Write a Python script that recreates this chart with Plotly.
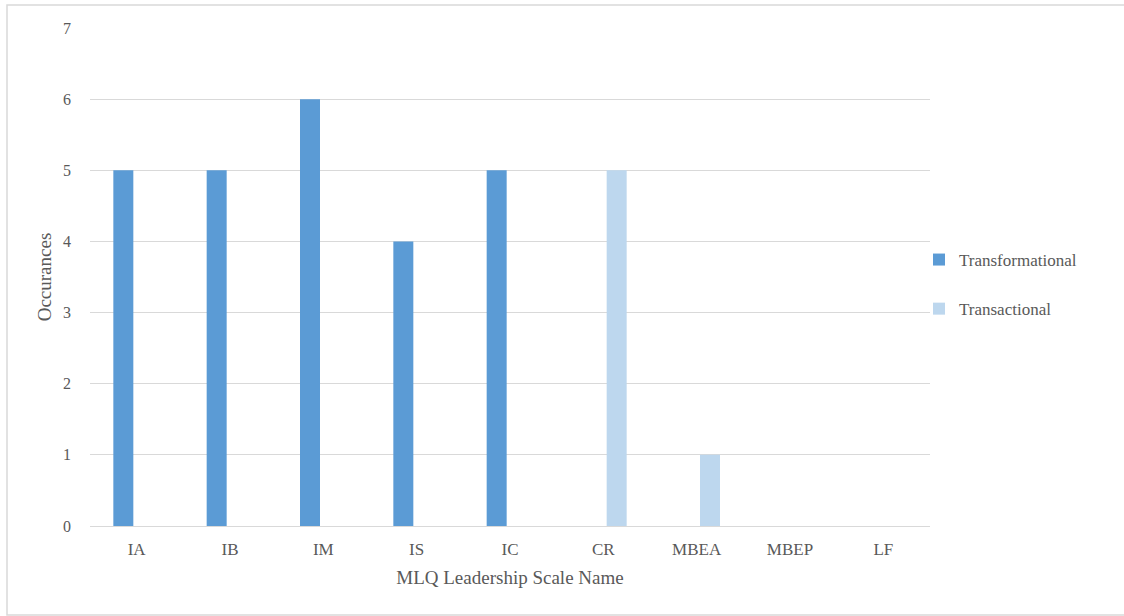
import plotly.graph_objects as go

categories = ["IA", "IB", "IM", "IS", "IC", "CR", "MBEA", "MBEP", "LF"]
transformational = [5, 5, 6, 4, 5, 0, 0, 0, 0]
transactional = [0, 0, 0, 0, 0, 5, 1, 0, 0]
y_ticks = [0, 1, 2, 3, 4, 5, 6, 7]

W, H = 1124, 616
L, R, T, B = 90, 194, 28, 90
pw, ph = W - L - R, H - T - B

font = '"Liberation Serif", "Times New Roman", "DejaVu Serif", serif'
gray = "#595959"

fig = go.Figure()
fig.add_trace(go.Bar(name="Transformational", x=categories, y=transformational,
                     marker=dict(color="#5B9BD5", line=dict(width=0)),
                     legendgroup="a"))
fig.add_trace(go.Bar(name="Transactional", x=categories, y=transactional,
                     marker=dict(color="#BDD7EE", line=dict(width=0)),
                     legendgroup="b"))

def px_x(p):
    return (p - L) / pw

def px_y(p):
    return (H - B - p) / ph

fig.update_layout(
    width=W, height=H,
    margin=dict(l=L, r=R, t=T, b=B),
    paper_bgcolor="white", plot_bgcolor="white",
    barmode="group", bargap=0.4286, bargroupgap=0.25,
    font=dict(family=font, color=gray, size=15),
    xaxis=dict(
        title=dict(text="MLQ Leadership Scale Name", font=dict(family=font, size=19, color=gray), standoff=12),
        showgrid=False, showline=True, linecolor="#D9D9D9", linewidth=1,
        ticks="", ticklabelstandoff=8, tickfont=dict(family=font, size=17, color=gray),
    ),
    yaxis=dict(
        title=dict(text="Occurances", font=dict(family=font, size=19, color=gray), standoff=6),
        range=[0, 7], tickvals=y_ticks, showgrid=True, gridcolor="#D9D9D9",
        gridwidth=1, zeroline=False, showline=False, ticks="",
        ticklabelstandoff=18, tickfont=dict(family=font, size=16, color=gray),
    ),
    legend=dict(
        x=px_x(919), y=px_y(242), xanchor="left", yanchor="top",
        font=dict(family=font, size=17, color=gray), tracegroupgap=24,
        bgcolor="rgba(0,0,0,0)", itemwidth=30,
    ),
    shapes=[dict(type="rect", xref="paper", yref="paper",
                 x0=px_x(7), x1=px_x(1130), y0=px_y(615), y1=px_y(5),
                 line=dict(color="#D9D9D9", width=1.5), layer="below")],
)

fig.write_html("out.html")
